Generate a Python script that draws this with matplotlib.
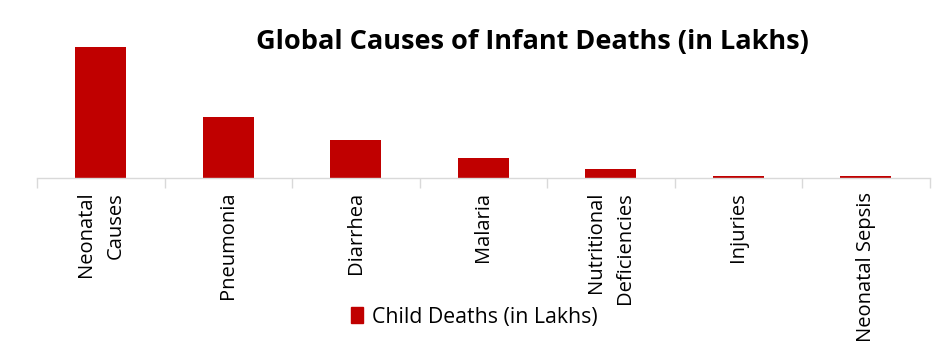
import numpy as np
import matplotlib.pyplot as plt
from matplotlib.patches import Patch

# Datos (en lakhs)
causes = [
    "Neonatal\nCauses",
    "Pneumonia",
    "Diarrhea",
    "Malaria",
    "Nutritional\nDeficiencies",
    "Injuries",
    "Neonatal Sepsis",
]
deaths = [32.8, 15.2, 9.5, 5.0, 2.2, 0.5, 0.5]

BAR_COLOR = "#c00000"
AXIS_COLOR = "#d9d9d9"
FONT = ["Open Sans", "DejaVu Sans"]

fig = plt.figure(figsize=(9.4, 3.44), dpi=100)
ax = fig.add_axes([0.0394, 0.4826, 0.9496, 0.430])

x = np.arange(len(causes))
ax.bar(x, deaths, width=0.4, color=BAR_COLOR)

ax.set_xlim(-0.5, len(causes) - 0.5)
ax.set_ylim(0, 37)

# Ejes
for side in ["top", "right", "left"]:
    ax.spines[side].set_visible(False)
ax.spines["bottom"].set_color(AXIS_COLOR)
ax.spines["bottom"].set_linewidth(1.0)
ax.set_yticks([])

ax.set_xticks(x)
ax.set_xticklabels(
    causes,
    rotation=90,
    fontsize=14.5,
    family=FONT,
    multialignment="right",
    linespacing=1.6,
)
ax.tick_params(axis="x", which="major", length=0, pad=10)
ax.set_xticks(np.arange(-0.5, len(causes)), minor=True)
ax.tick_params(axis="x", which="minor", length=7, color=AXIS_COLOR, width=1.0)

fig.text(
    532 / 940,
    1 - 42 / 344,
    "Global Causes of Infant Deaths (in Lakhs)",
    ha="center",
    va="center",
    fontsize=19.5,
    fontweight="bold",
    family=FONT,
)

handle = Patch(color=BAR_COLOR, label="Child Deaths (in Lakhs)")
fig.legend(
    handles=[handle],
    loc="center",
    bbox_to_anchor=(474 / 940, 1 - 317 / 344),
    frameon=False,
    prop={"family": FONT, "size": 15.3},
    handlelength=0.6,
    handleheight=0.8,
    handletextpad=0.4,
)

fig.savefig("out.png", dpi=100)
